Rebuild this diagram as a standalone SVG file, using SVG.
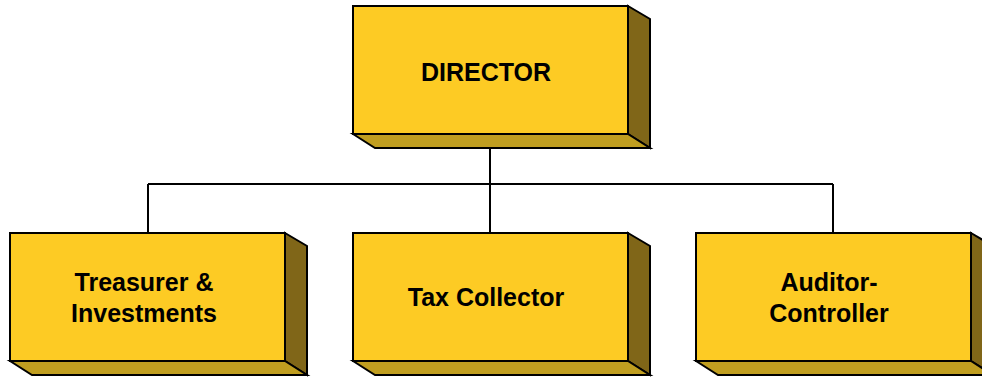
<svg xmlns="http://www.w3.org/2000/svg" width="982" height="377" viewBox="0 0 982 377">
  <style>
    .front { fill: #FDCB24; stroke: #000; stroke-width: 2; stroke-linejoin: miter; }
    .side { fill: #806618; stroke: #000; stroke-width: 2; stroke-linejoin: miter; }
    .bottom { fill: #C09E20; stroke: #000; stroke-width: 2; stroke-linejoin: miter; }
    .label { font-family: "Liberation Sans", Arial, sans-serif; font-weight: bold; font-size: 25px; fill: #000; text-anchor: middle; }
    .conn { fill: none; stroke: #000; stroke-width: 2; }
  </style>
  <defs>
    <!-- 3-D box: front face 275x128, depth offset 22x14 -->
    <g id="box">
      <polygon class="side" points="275,0 297,13 297,142 275,128"/>
      <polygon class="bottom" points="0,128 22,142 297,142 275,128"/>
      <rect class="front" x="0" y="0" width="275" height="128"/>
    </g>
  </defs>
  <rect width="982" height="377" fill="#fff"/>

  <g id="connectors">
    <path class="conn" d="M490,148 V184 M148,184 H833 M148,184 V233 M490,184 V233 M833,184 V233"/>
  </g>

  <g id="director">
    <use href="#box" x="353" y="6"/>
    <text class="label" x="486" y="81">DIRECTOR</text>
  </g>

  <g id="treasurer">
    <use href="#box" x="10" y="233"/>
    <text class="label" x="144" y="291">Treasurer &amp;</text>
    <text class="label" x="144" y="322">Investments</text>
  </g>

  <g id="tax-collector">
    <use href="#box" x="353" y="233"/>
    <text class="label" x="486" y="306">Tax Collector</text>
  </g>

  <g id="auditor-controller">
    <use href="#box" x="696" y="233"/>
    <text class="label" x="829" y="291">Auditor-</text>
    <text class="label" x="829" y="322">Controller</text>
  </g>
</svg>
